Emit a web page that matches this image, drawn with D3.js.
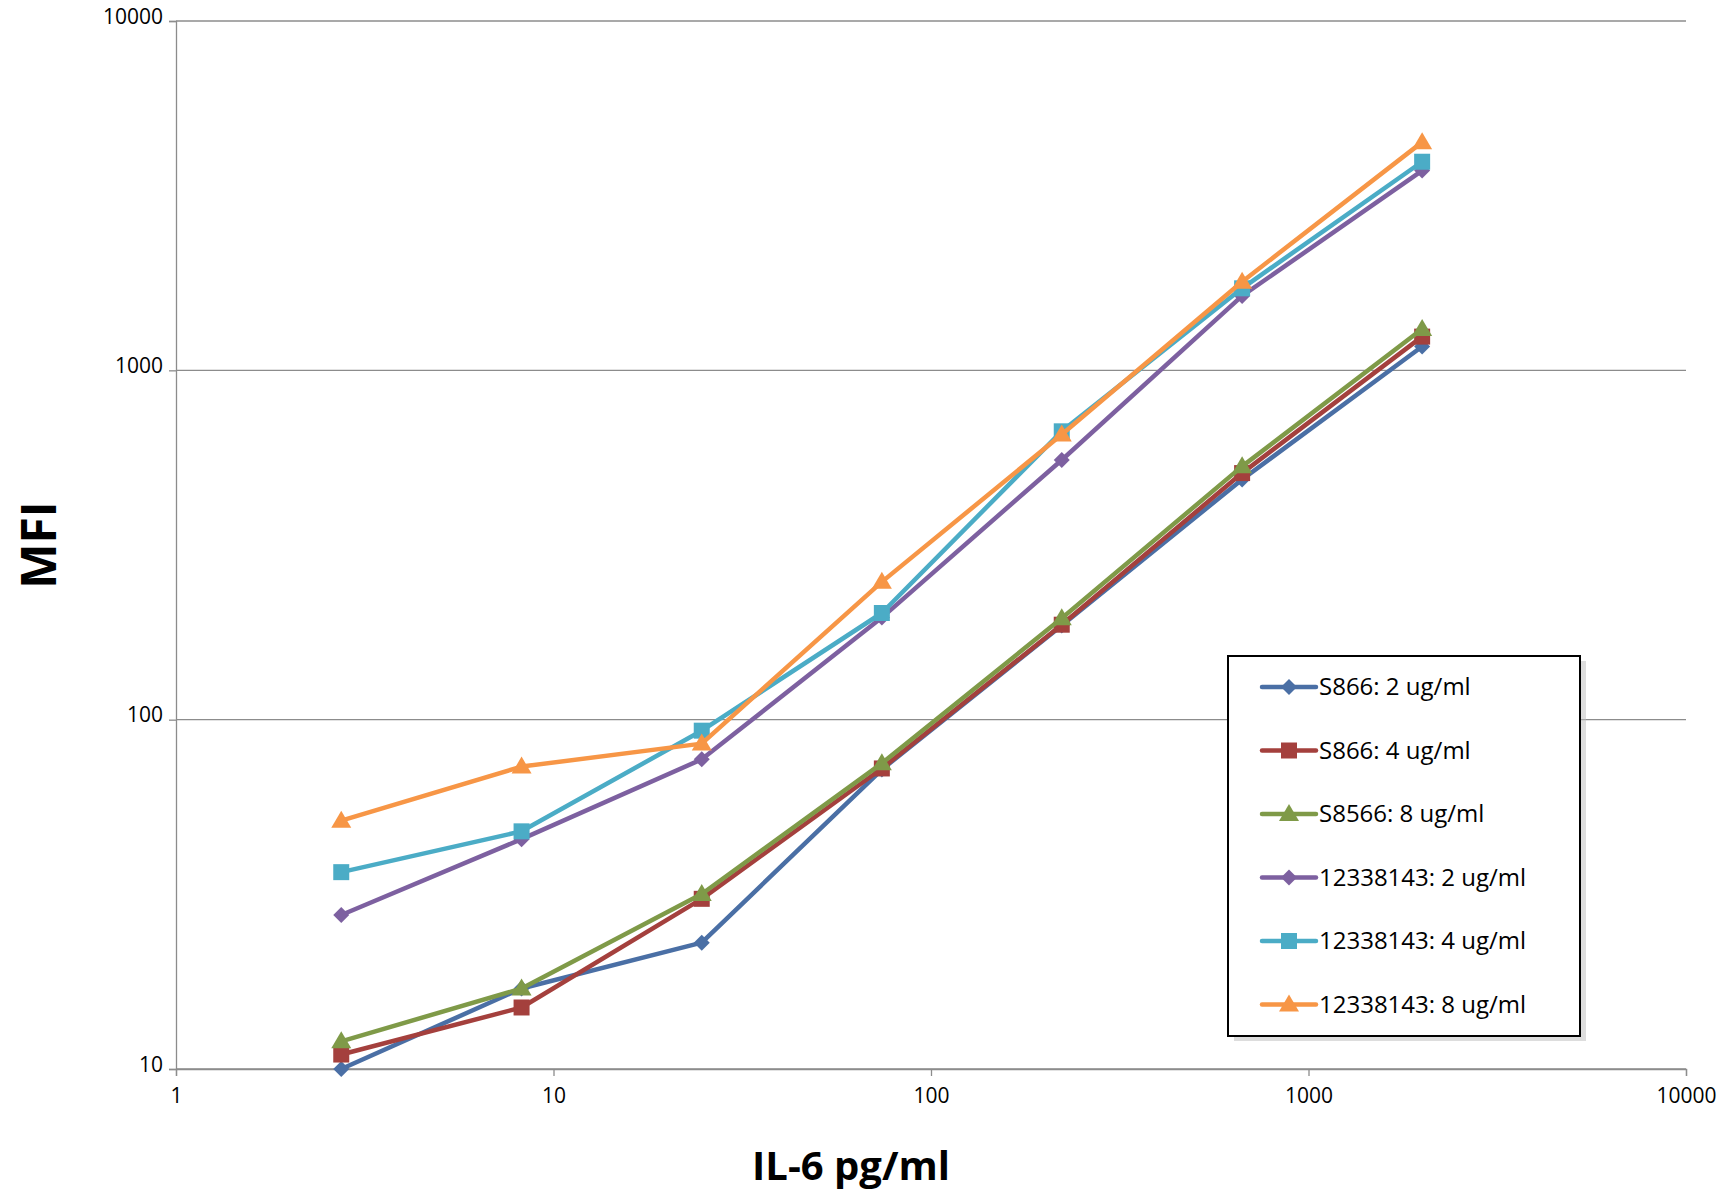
<!DOCTYPE html>
<html><head><meta charset="utf-8">
<script src="https://cdn.jsdelivr.net/npm/d3@7"></script>
<style>body{margin:0;background:#fff;font-family:"Open Sans",sans-serif;}</style>
</head><body><div id="chart"></div>
<script>
var doses = [2.74, 8.23, 24.7, 74.1, 222, 667, 2000];
var seriesNames = ["S866: 2 ug/ml","S866: 4 ug/ml","S8566: 8 ug/ml","12338143: 2 ug/ml","12338143: 4 ug/ml","12338143: 8 ug/ml"];
var s866_2 = [10, 17, 23, 72, 186, 487, 1170];
var s866_4 = [11, 15, 30.7, 72.5, 187, 508, 1249];
var s8566_8 = [12, 17, 31.7, 75, 195, 531, 1313];
var c123_2 = [27.6, 45.5, 77, 196, 554, 1633, 3730];
var c123_4 = [36.6, 47.9, 93, 202, 669, 1717, 3955];
var c123_8 = [51.4, 73.4, 85.4, 248, 655, 1794, 4500];
var colors = ["#4a6fa5","#a4403d","#7f9a48","#7d60a0","#4bacc6","#f79646"];
var shapes = ["diamond","square","triangle","diamond","square","triangle"];
var xTicks = [1, 10, 100, 1000, 10000];
var yTicks = [10, 100, 1000, 10000];
var allSeries = [s866_2, s866_4, s8566_8, c123_2, c123_4, c123_8];

var W = 1725, H = 1192;
var m = {left: 176, right: 1686, top: 21, bottom: 1069};
var svg = d3.select("#chart").append("svg").attr("width", W).attr("height", H);

var x = d3.scaleLog().domain([1, 10000]).range([m.left, m.right]);
var y = d3.scaleLog().domain([10, 10000]).range([m.bottom, m.top]);

// gridlines
svg.append("g").selectAll("line").data(yTicks).enter().append("line")
  .attr("x1", m.left).attr("x2", m.right)
  .attr("y1", d => y(d)).attr("y2", d => y(d))
  .attr("stroke", "#8c8c8c").attr("stroke-width", 1.3);

// axes
var xa = svg.append("g").attr("transform", "translate(0," + m.bottom + ")")
  .call(d3.axisBottom(x).tickValues(xTicks).tickFormat(d3.format("d")).tickSize(7).tickPadding(12));
var ya = svg.append("g").attr("transform", "translate(" + m.left + ",0)")
  .call(d3.axisLeft(y).tickValues(yTicks).tickFormat(d3.format("d")).tickSize(7).tickPadding(6));
[xa, ya].forEach(function(a) {
  a.selectAll("path,line").attr("stroke", "#8c8c8c").attr("stroke-width", 1.3);
  a.selectAll("text").attr("font-size", 21).attr("fill", "#000").attr("font-family", "'Open Sans',sans-serif");
});
ya.selectAll("text").attr("dy", "0.1em");

svg.append("text").attr("x", (m.left + m.right) / 2 - 80).attr("y", 1180)
  .attr("text-anchor", "middle").attr("font-size", 40).attr("font-weight", "bold").text("IL-6 pg/ml");
svg.append("text").attr("transform", "translate(56," + (m.top + m.bottom) / 2 + ") rotate(-90)")
  .attr("text-anchor", "middle").attr("font-size", 48).attr("font-weight", "bold").text("MFI");

function marker(g, shape, color, cx, cy) {
  var d;
  if (shape === "diamond") d = "M0,-8L8,0L0,8L-8,0Z";
  else if (shape === "square") d = "M-8,-8H8V8H-8Z";
  else d = "M0,-10L10,7H-10Z";
  g.append("path").attr("d", d)
    .attr("transform", "translate(" + cx + "," + cy + ")").attr("fill", color);
}

var line = d3.line().x((d, i) => x(doses[i])).y(d => y(d));
allSeries.forEach(function(vals, k) {
  var g = svg.append("g");
  g.append("path").datum(vals).attr("d", line).attr("fill", "none")
    .attr("stroke", colors[k]).attr("stroke-width", 4.5).attr("stroke-linejoin", "round");
  vals.forEach(function(v, i) { marker(g, shapes[k], colors[k], x(doses[i]), y(v)); });
});

// legend
var lg = svg.append("g");
lg.append("rect").attr("x", 1234).attr("y", 661).attr("width", 352).attr("height", 380).attr("fill", "#bbb").attr("opacity", 0.5);
lg.append("rect").attr("x", 1228).attr("y", 656).attr("width", 352).attr("height", 380)
  .attr("fill", "#fff").attr("stroke", "#000").attr("stroke-width", 2);
seriesNames.forEach(function(n, k) {
  var yy = 687 + k * 63.5;
  lg.append("line").attr("x1", 1262).attr("x2", 1316).attr("y1", yy).attr("y2", yy)
    .attr("stroke", colors[k]).attr("stroke-width", 4.5).attr("stroke-linecap", "round");
  marker(lg, shapes[k], colors[k], 1289, yy);
  lg.append("text").attr("x", 1319).attr("y", yy).attr("dy", "0.35em").attr("font-size", 24).text(n);
});
</script></body></html>
